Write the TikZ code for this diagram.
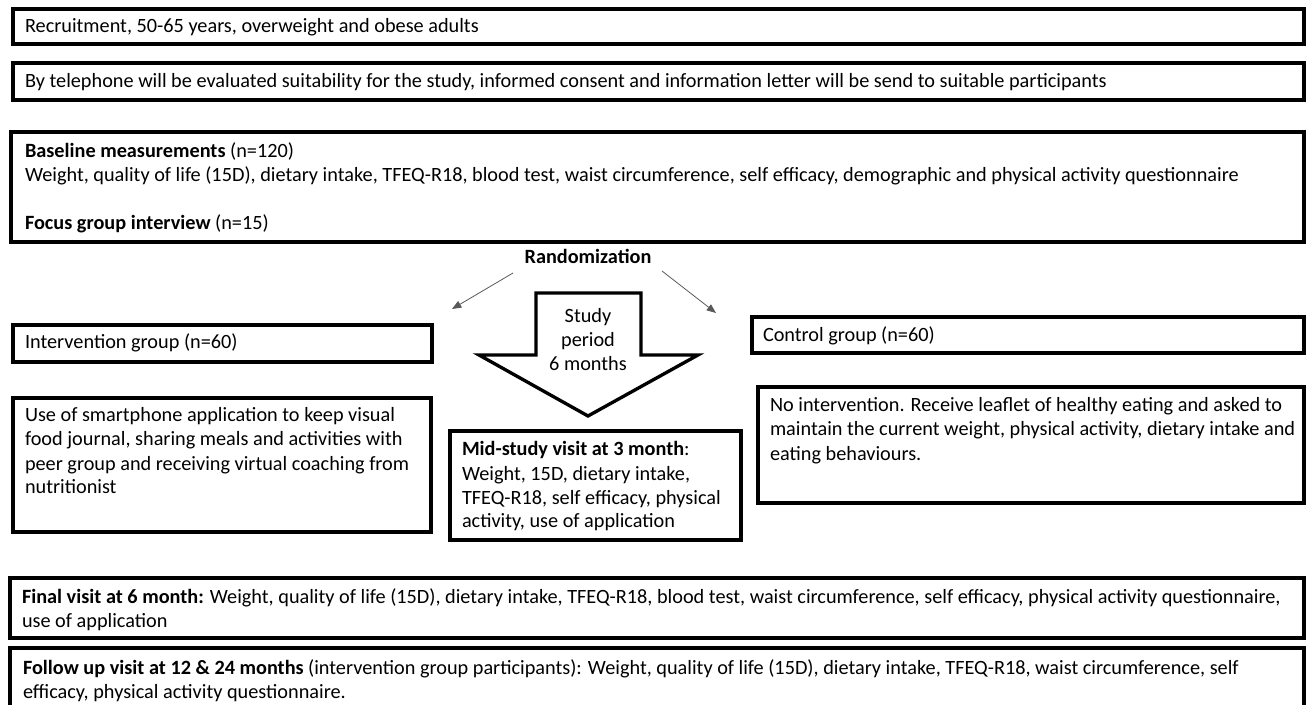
\documentclass[tikz,border=0pt]{standalone}
\usepackage{fontspec}
\setmainfont{Carlito}
\usetikzlibrary{arrows.meta}
\tikzset{
  box/.style={draw=black, line width=2.5pt, rectangle, inner sep=0pt, outer sep=0pt, anchor=north west},
  txt/.style={anchor=base west, inner sep=0pt, outer sep=0pt, font=\fontsize{15.2}{18}\selectfont},
  ctxt/.style={anchor=base, inner sep=0pt, outer sep=0pt, font=\fontsize{15.2}{18}\selectfont},
  thinarrow/.style={draw=black!65, line width=0.6pt, -{Triangle[length=7pt,width=5.5pt]}},
  blockarrow/.style={draw=black, line width=2.5pt, line join=miter, fill=white}
}
\begin{document}
\begin{tikzpicture}[x=0.75pt, y=-0.75pt]
\useasboundingbox[fill=white] (0,0) rectangle (1306,705);

% boxes
\node[box, minimum width=1291*0.75pt, minimum height=35*0.75pt] (b1) at (13,9) {};
\node[box, minimum width=1291*0.75pt, minimum height=37*0.75pt] (b2) at (13,63) {};
\node[box, minimum width=1293*0.75pt, minimum height=110*0.75pt] (b3) at (11,132) {};
\node[box, minimum width=419*0.75pt, minimum height=37*0.75pt] (ig) at (13,325) {};
\node[box, minimum width=418*0.75pt, minimum height=134*0.75pt] (use) at (13,398) {};
\node[box, minimum width=291*0.75pt, minimum height=109*0.75pt] (mid) at (450,431) {};
\node[box, minimum width=552*0.75pt, minimum height=36*0.75pt] (cg) at (752,317) {};
\node[box, minimum width=546*0.75pt, minimum height=116*0.75pt] (noint) at (758,387) {};
\node[box, minimum width=1294*0.75pt, minimum height=60*0.75pt] (fin) at (10,578) {};
\node[box, minimum width=1294*0.75pt, minimum height=70*0.75pt] (fol) at (10,648) {};

% texts
\node[txt] (t1) at (25,33) {Recruitment, 50-65 years, overweight and obese adults};
\node[txt] (t2) at (25,88) {By telephone will be evaluated suitability for the study, informed consent and information letter will be send to suitable participants};
\node[txt] (t3) at (25,158) {\begin{tabular}[t]{@{}l@{}}
\textbf{Baseline measurements} (n=120)\\
Weight, quality of life (15D), dietary intake, TFEQ-R18, blood test, waist circumference, self efficacy, demographic and physical activity questionnaire\\
\\
\textbf{Focus group interview} (n=15)
\end{tabular}};
\node[ctxt] (rand) at (588,264) {\textbf{Randomization}};
\node[txt] (tig) at (25,349) {Intervention group (n=60)};
\node[txt] (tuse) at (25,422) {\begin{tabular}[t]{@{}l@{}}
Use of smartphone application to keep visual\\
food journal, sharing meals and activities with\\
peer group and receiving virtual coaching from\\
nutritionist
\end{tabular}};
\node[txt] (tmid) at (462,456) {\begin{tabular}[t]{@{}l@{}}
\textbf{Mid-study visit at 3 month}:\\
Weight, 15D, dietary intake,\\
TFEQ-R18, self efficacy, physical\\
activity, use of application
\end{tabular}};
\node[txt] (tcg) at (763,342) {Control group (n=60)};
\node[txt] (tno) at (770,412) {\begin{tabular}[t]{@{}l@{}}
No intervention. Receive leaflet of healthy eating and asked to\\
maintain the current weight, physical activity, dietary intake and\\
eating behaviours.
\end{tabular}};
\node[txt] (tfin) at (22,603) {\begin{tabular}[t]{@{}l@{}}
\textbf{Final visit at 6 month:} Weight, quality of life (15D), dietary intake, TFEQ-R18, blood test, waist circumference, self efficacy, physical activity questionnaire,\\
use of application
\end{tabular}};
\node[txt] (tfol) at (23,674) {\begin{tabular}[t]{@{}l@{}}
\textbf{Follow up visit at 12 \& 24 months} (intervention group participants): Weight, quality of life (15D), dietary intake, TFEQ-R18, waist circumference, self\\
efficacy, physical activity questionnaire.
\end{tabular}};

% block arrow
\draw[blockarrow] (536,293) -- (641,293) -- (641,355) -- (698,355) -- (588,416) -- (479,355) -- (536,355) -- cycle;
\node[ctxt] (study) at (588,323) {\begin{tabular}[t]{@{}c@{}}Study\\period\\6 months\end{tabular}};

% randomization arrows
\coordinate (lstart) at (513,273);
\coordinate (lend) at (452,309);
\coordinate (rstart) at (662,271);
\coordinate (rend) at (716,313);
\draw[thinarrow] (lstart) -- (lend);
\draw[thinarrow] (rstart) -- (rend);
\end{tikzpicture}
\end{document}
